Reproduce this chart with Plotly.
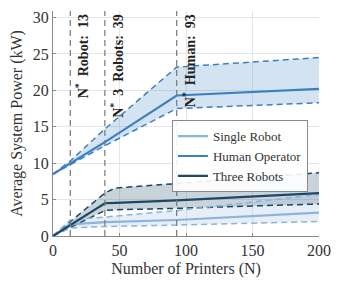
import plotly.graph_objects as go

# ---- data ----
x_human = [0, 13, 39, 93, 200]
human_mean = [8.5, 10.0, 12.9, 19.3, 20.2]
human_upper = [8.5, 10.3, 14.7, 23.2, 24.5]
human_lower = [8.5, 9.8, 12.4, 17.5, 18.3]

x_three = [0, 13, 39, 47, 93, 200]
three_mean = [0, 1.5, 4.5, 4.55, 4.9, 5.9]
three_upper = [0, 2.0, 5.9, 6.6, 7.2, 8.7]
three_lower = [0, 1.2, 3.5, 3.6, 3.8, 4.4]

x_single = [0, 13, 39, 93, 200]
single_mean = [0, 1.6, 1.9, 2.2, 3.2]
single_upper = [0, 2.2, 2.6, 3.5, 5.7]
single_lower = [0, 1.1, 1.3, 1.5, 2.0]

nstar_x = [13, 39, 93]
nstar_labels = ["N<sup>*</sup>  Robot:  13", "N<sup>*</sup>  3  Robots:  39", "N<sup>*</sup>  Human:  93"]

C_SINGLE = "#8db3dc"
C_HUMAN = "#3b80c2"
C_THREE = "#1a4866"
FONT = "Liberation Serif"
TXT = "#333333"

fig = go.Figure()

def band(x, lo, hi, fill):
    fig.add_trace(go.Scatter(x=x, y=lo, mode="lines", line=dict(width=0), showlegend=False, hoverinfo="skip"))
    fig.add_trace(go.Scatter(x=x, y=hi, mode="lines", line=dict(width=0), fill="tonexty",
                             fillcolor=fill, showlegend=False, hoverinfo="skip"))

band(x_human, human_lower, human_upper, "rgba(59,128,194,0.22)")
band(x_three, three_lower, three_upper, "rgba(26,72,102,0.24)")
band(x_single, single_lower, single_upper, "rgba(141,179,220,0.22)")

for x, y, c in [(x_human, human_upper, C_HUMAN), (x_human, human_lower, C_HUMAN),
                (x_three, three_upper, C_THREE), (x_three, three_lower, C_THREE),
                (x_single, single_upper, C_SINGLE), (x_single, single_lower, C_SINGLE)]:
    fig.add_trace(go.Scatter(x=x, y=y, mode="lines", line=dict(color=c, width=1.5, dash="6px,4px"),
                             showlegend=False, hoverinfo="skip"))

fig.add_trace(go.Scatter(x=x_single, y=single_mean, mode="lines", name="Single Robot",
                         line=dict(color=C_SINGLE, width=2.2)))
fig.add_trace(go.Scatter(x=x_human, y=human_mean, mode="lines", name="Human Operator",
                         line=dict(color=C_HUMAN, width=2.2)))
fig.add_trace(go.Scatter(x=x_three, y=three_mean, mode="lines", name="Three Robots",
                         line=dict(color=C_THREE, width=2.2)))

for xv, lab in zip(nstar_x, nstar_labels):
    fig.add_shape(type="line", x0=xv, x1=xv, y0=0, y1=1, xref="x", yref="paper",
                  line=dict(color="#777777", width=1.2, dash="6px,4px"))
    fig.add_annotation(x=xv, y=1, xref="x", yref="paper", text="<b>" + lab + "</b>",
                       textangle=-90, showarrow=False, xanchor="center", yanchor="top",
                       xshift=12, yshift=-1, font=dict(family=FONT, size=14, color="#222222"))

fig.update_layout(
    width=342, height=286,
    margin=dict(l=53, r=23, t=9, b=50),
    paper_bgcolor="white", plot_bgcolor="white",
    font=dict(family=FONT, size=16, color=TXT),
    legend=dict(x=0.447, y=0.515, xanchor="left", yanchor="top", traceorder="normal",
                bgcolor="rgba(255,255,255,0.9)", bordercolor="#888888", borderwidth=1,
                font=dict(family=FONT, size=13, color=TXT),
                tracegroupgap=0, itemwidth=30),
)
fig.update_xaxes(range=[0, 200], tickvals=[0, 50, 100, 150, 200],
                 tickfont=dict(family=FONT, size=16, color=TXT),
                 title=dict(text="Number of Printers (N)", standoff=4, font=dict(family=FONT, size=16, color=TXT)),
                 showgrid=True, gridcolor="#e6e6e6", gridwidth=1,
                 showline=True, linecolor="#888888", linewidth=1,
                 ticks="inside", ticklen=3, tickcolor="#888888", zeroline=False)
fig.update_yaxes(range=[0, 30.9], tickvals=[0, 5, 10, 15, 20, 25, 30],
                 tickfont=dict(family=FONT, size=16, color=TXT),
                 title=dict(text="Average System Power (kW)", standoff=6, font=dict(family=FONT, size=16, color=TXT)),
                 showgrid=True, gridcolor="#e6e6e6", gridwidth=1,
                 showline=True, linecolor="#888888", linewidth=1,
                 ticks="inside", ticklen=3, tickcolor="#888888", zeroline=False)

fig.write_html("out.html")
